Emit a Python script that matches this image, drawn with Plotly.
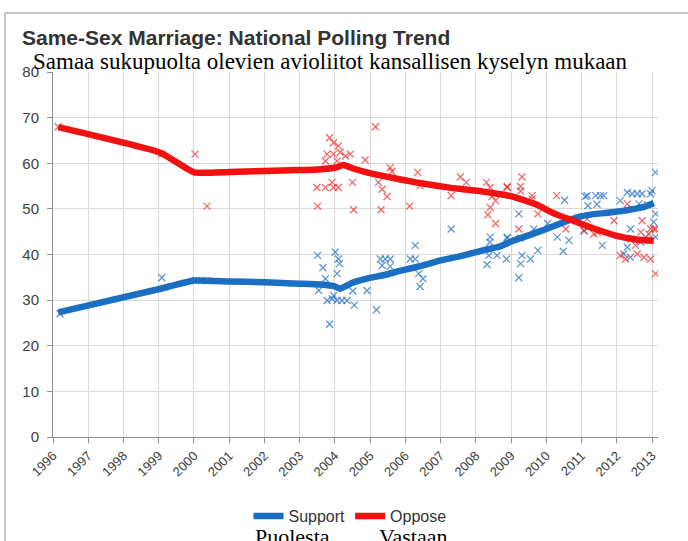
import plotly.graph_objects as go

# ---- data -------------------------------------------------------------
support_trend_years = [1996.15, 1999.05, 2000.0, 2001.0, 2002.0, 2003.0, 2003.6, 2004.0, 2004.15,
                       2004.5, 2004.9, 2005.4, 2005.9, 2006.5, 2007.0, 2007.6, 2008.2, 2008.7,
                       2009.05, 2009.5, 2010.0, 2010.5, 2010.9, 2011.3, 2011.8, 2012.2, 2012.5,
                       2012.8, 2013.05]
support_trend_values = [27.3, 32.5, 34.3, 34.1, 33.9, 33.6, 33.4, 33.0, 32.5,
                        33.8, 34.7, 35.5, 36.5, 37.6, 38.7, 39.7, 40.9, 41.8,
                        43.0, 44.2, 45.6, 47.1, 48.2, 48.8, 49.2, 49.6, 50.0,
                        50.5, 51.3]

oppose_trend_years = [1996.15, 1999.05, 2000.0, 2001.0, 2002.0, 2003.0, 2003.6, 2004.0, 2004.25,
                      2004.5, 2004.9, 2005.5, 2006.3, 2007.3, 2008.1, 2008.7, 2009.05, 2009.7,
                      2010.25, 2010.8, 2011.35, 2012.0, 2012.55, 2013.05]
oppose_trend_values = [67.9, 62.3, 58.0, 58.1, 58.3, 58.5, 58.7, 59.0, 59.6,
                       58.9, 58.0, 57.0, 55.8, 54.6, 53.9, 53.2, 52.7, 51.0,
                       48.9, 47.3, 45.7, 44.1, 43.3, 43.0]

support_poll_years = [1996.2, 1999.09, 2000.05, 2000.37, 2003.51, 2003.54, 2003.66, 2003.73,
                      2003.78, 2003.85, 2003.92, 2003.96, 2004.01, 2004.06, 2004.06, 2004.10,
                      2004.13, 2004.20, 2004.34, 2004.51, 2004.55, 2004.91, 2005.18, 2005.29,
                      2005.34, 2005.43, 2005.57, 2005.57, 2006.14, 2006.28, 2006.28, 2006.38,
                      2006.50, 2006.42, 2007.30, 2008.32, 2008.37, 2008.40, 2008.41, 2008.60,
                      2008.87, 2008.89, 2008.89, 2009.22, 2009.22, 2009.27, 2009.27, 2009.31,
                      2009.55, 2009.65, 2009.76, 2010.04, 2010.31, 2010.48, 2010.52, 2010.64,
                      2011.07, 2011.11, 2011.16, 2011.18, 2011.40, 2011.44, 2011.54, 2011.59,
                      2011.63, 2012.10, 2012.20, 2012.30, 2012.30, 2012.39, 2012.39, 2012.44,
                      2012.58, 2012.63, 2012.68, 2012.72, 2012.82, 2012.87, 2012.96, 2013.00,
                      2013.05, 2013.10, 2013.10, 2013.10]
support_poll_values = [27.0, 34.9, 34.3, 34.3, 39.8, 32.1, 37.1, 34.7,
                       29.9, 24.7, 30.3, 31.0, 40.5, 35.8, 29.9, 39.0,
                       38.0, 29.9, 29.9, 32.0, 28.9, 32.1, 27.9, 39.0,
                       37.6, 39.0, 39.0, 37.4, 39.0, 39.0, 42.0, 35.8,
                       34.7, 33.0, 45.6, 37.8, 39.8, 42.7, 43.8, 39.8,
                       39.0, 43.8, 43.6, 48.9, 34.9, 43.6, 38.0, 39.8,
                       39.0, 45.6, 40.9, 46.8, 43.8, 40.7, 51.9, 43.1,
                       45.2, 52.7, 52.9, 50.7, 52.9, 51.0, 52.9, 42.0,
                       52.9, 51.8, 40.1, 53.6, 41.6, 45.6, 39.4, 53.3,
                       53.3, 51.1, 42.7, 53.3, 43.8, 50.9, 53.3, 54.0,
                       47.1, 58.0, 48.9, 43.8]

oppose_poll_years = [1996.15, 1999.09, 2000.03, 2000.37, 2003.49, 2003.51, 2003.73, 2003.73,
                     2003.78, 2003.85, 2003.92, 2003.96, 2003.96, 2003.96, 2004.06, 2004.10,
                     2004.10, 2004.15, 2004.30, 2004.44, 2004.50, 2004.53, 2004.86, 2005.15,
                     2005.24, 2005.31, 2005.34, 2005.48, 2005.57, 2005.62, 2006.12, 2006.35,
                     2006.42, 2007.30, 2007.56, 2007.73, 2008.30, 2008.34, 2008.41, 2008.41,
                     2008.46, 2008.56, 2008.56, 2008.89, 2008.89, 2009.22, 2009.27, 2009.27,
                     2009.31, 2009.60, 2009.60, 2009.76, 2010.29, 2010.55, 2011.07, 2011.16,
                     2011.20, 2011.35, 2011.45, 2011.92, 2012.10, 2012.25, 2012.30, 2012.39,
                     2012.53, 2012.58, 2012.68, 2012.72, 2012.77, 2012.91, 2012.96, 2012.96,
                     2013.05, 2013.10, 2013.10]
oppose_poll_values = [68.0, 62.0, 62.0, 50.6, 54.7, 50.6, 54.7, 60.5,
                      62.0, 65.6, 55.8, 64.5, 62.0, 54.7, 60.5, 63.8,
                      54.7, 62.4, 61.6, 62.0, 55.8, 49.8, 60.7, 68.0,
                      55.8, 49.8, 54.3, 52.7, 59.0, 58.2, 50.6, 58.0,
                      55.1, 52.9, 57.0, 55.8, 55.8, 48.7, 54.7, 50.3,
                      52.7, 51.8, 46.8, 54.7, 54.9, 45.6, 54.9, 53.9,
                      57.0, 52.9, 52.2, 48.9, 52.9, 45.6, 45.2, 47.8,
                      46.0, 44.5, 44.8, 47.4, 39.8, 39.0, 51.1, 43.4,
                      42.0, 40.1, 44.9, 47.4, 39.4, 44.5, 39.0, 45.6,
                      45.6, 45.6, 35.8]

x_tick_years = list(range(1996, 2014))
y_tick_values = list(range(0, 81, 10))

title_text = "Same-Sex Marriage: National Polling Trend"
subtitle_text = "Samaa sukupuolta olevien avioliitot kansallisen kyselyn mukaan"
support_label = "Support"
oppose_label = "Oppose"
support_translation = "Puolesta"
oppose_translation = "Vastaan"

# ---- styles -----------------------------------------------------------
BLUE = "#1a6fc2"
RED = "#f21010"
BLUE_MARK = "rgba(40,115,195,0.75)"
RED_MARK = "rgba(235,40,40,0.7)"
SANS = "Liberation Sans, Arial, sans-serif"
SERIF = "Liberation Serif, Times New Roman, serif"

fig = go.Figure()

fig.add_trace(go.Scatter(
    x=support_poll_years, y=support_poll_values, mode="markers", showlegend=False,
    hoverinfo="skip",
    marker=dict(symbol="x-thin", size=7, line=dict(width=1.3, color=BLUE_MARK))))
fig.add_trace(go.Scatter(
    x=oppose_poll_years, y=oppose_poll_values, mode="markers", showlegend=False,
    hoverinfo="skip",
    marker=dict(symbol="x-thin", size=7, line=dict(width=1.3, color=RED_MARK))))

fig.add_trace(go.Scatter(
    x=support_trend_years, y=support_trend_values, mode="lines", name=support_label,
    line=dict(color=BLUE, width=6.5, shape="spline", smoothing=0.4)))
fig.add_trace(go.Scatter(
    x=oppose_trend_years, y=oppose_trend_values, mode="lines", name=oppose_label,
    line=dict(color=RED, width=6.5, shape="spline", smoothing=0.4)))

W, H = 688, 541
L, R, T, B = 53, 30, 72, 104
pw, ph = W - L - R, H - T - B


def px(xpix):
    return (xpix - L) / pw


def py(ypix):
    return (H - B - ypix) / ph


fig.update_layout(
    width=W, height=H,
    margin=dict(l=L, r=R, t=T, b=B, autoexpand=False),
    paper_bgcolor="white", plot_bgcolor="white",
    font=dict(family=SANS, color="#404040"),
    xaxis=dict(
        range=[1996, 2013.17], tickmode="array", tickvals=x_tick_years,
        ticktext=[str(y) for y in x_tick_years], tickangle=-45,
        tickfont=dict(size=13, color="#404040"),
        showgrid=True, gridcolor="#d9d9d9", gridwidth=1,
        showline=True, linecolor="#8c8c8c", linewidth=1,
        ticks="outside", ticklen=5, tickcolor="#8c8c8c", zeroline=False),
    yaxis=dict(
        range=[0, 80], tickmode="array", tickvals=y_tick_values,
        tickfont=dict(size=15, color="#404040"), ticklabelstandoff=5,
        showgrid=True, gridcolor="#d9d9d9", gridwidth=1,
        showline=True, linecolor="#8c8c8c", linewidth=1,
        ticks="outside", ticklen=5, tickcolor="#8c8c8c", zeroline=False),
    legend=dict(
        orientation="h", x=px(350), y=py(516), xanchor="center", yanchor="middle",
        font=dict(family=SANS, size=16, color="#333333"), bgcolor="rgba(0,0,0,0)",
        itemwidth=30),
    annotations=[
        dict(text="<b>" + title_text + "</b>", xref="paper", yref="paper",
             x=px(20), y=py(38), xanchor="left", yanchor="middle", showarrow=False,
             font=dict(family=SANS, size=21, color="#333333")),
        dict(text=subtitle_text, xref="paper", yref="paper",
             x=px(31), y=py(61), xanchor="left", yanchor="middle", showarrow=False,
             font=dict(family=SERIF, size=23, color="#000000")),
        dict(text=support_translation, xref="paper", yref="paper",
             x=px(292), y=py(522), xanchor="center", yanchor="top", showarrow=False,
             font=dict(family=SERIF, size=22, color="#000000")),
        dict(text=oppose_translation, xref="paper", yref="paper",
             x=px(413), y=py(522), xanchor="center", yanchor="top", showarrow=False,
             font=dict(family=SERIF, size=22, color="#000000")),
    ],
    shapes=[
        dict(type="path", xref="paper", yref="paper",
             path=f"M {px(5)},{py(H + 5)} L {px(5)},{py(13)} L {px(W + 5)},{py(13)}",
             line=dict(color="#b5b5b5", width=1.5)),
    ],
)

fig.write_html("out.html", config={"displayModeBar": False},
               post_script="document.body.style.margin='0';document.body.style.overflow='hidden';")
